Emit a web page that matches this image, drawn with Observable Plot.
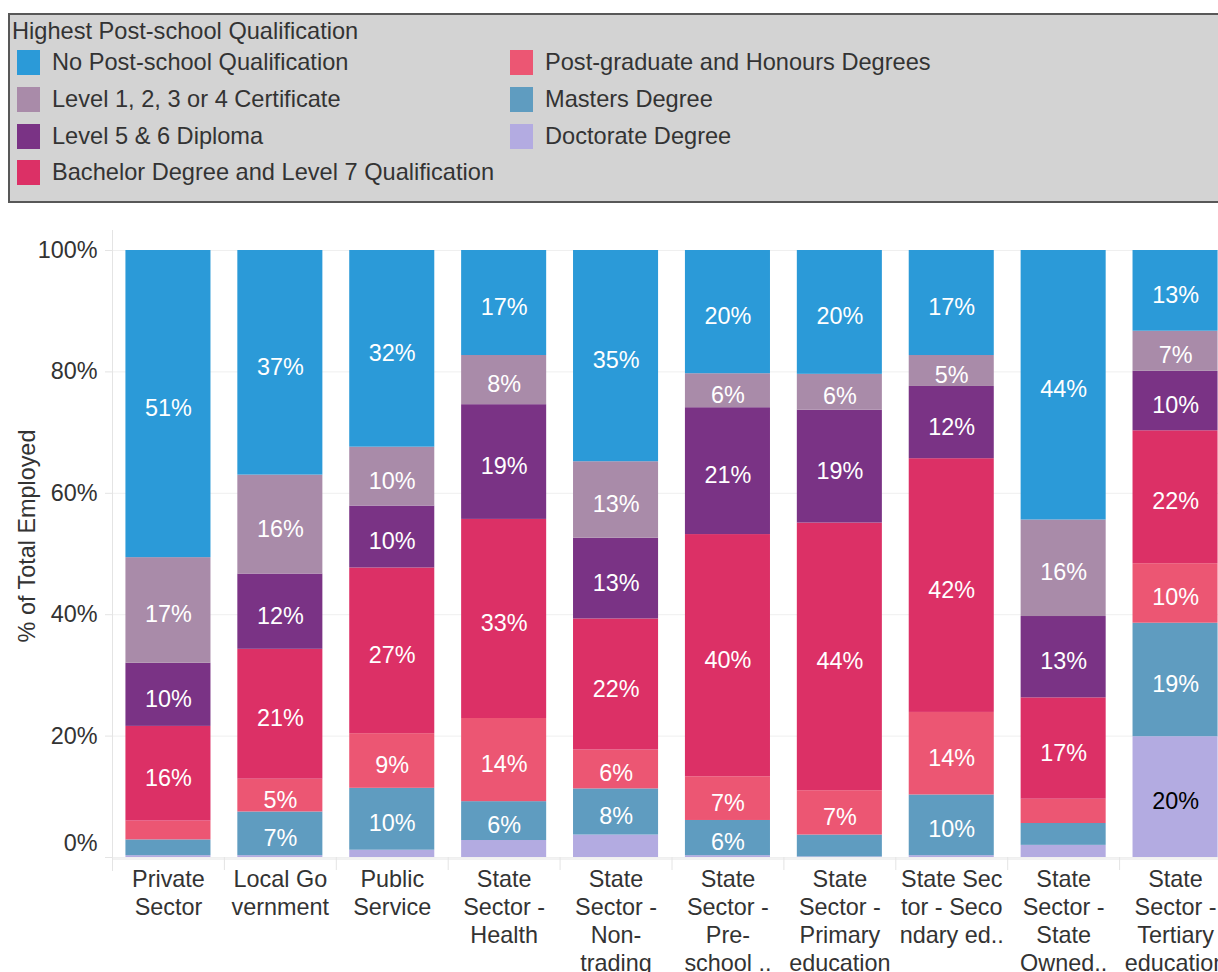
<!DOCTYPE html>
<html><head><meta charset="utf-8">
<script src="https://cdn.jsdelivr.net/npm/d3@7"></script>
<script src="https://cdn.jsdelivr.net/npm/@observablehq/plot@0.6"></script>
<style>
body{margin:0;background:#fff;font-family:"Liberation Sans",Arial,sans-serif;width:1218px;height:972px;overflow:hidden;position:relative}
#legend{position:absolute;left:8px;top:13px;width:1240px;height:186px;background:#d3d3d3;border:2px solid #585858;}
#legend .title{position:absolute;left:2px;top:3px;font-size:23.6px;color:#333;line-height:26px;white-space:nowrap}
.item{position:absolute;height:26px;display:flex;align-items:center;font-size:23.6px;color:#333;white-space:nowrap}
.sw{width:23px;height:25px;margin-right:12px;flex:none}
#chart{position:absolute;left:0;top:210px}
</style></head>
<body>
<div id="legend"><div class="title">Highest Post-school Qualification</div></div>
<div id="chart"></div>
<script>
const sectors = ["Private Sector","Local Government","Public Service","State Sector - Health","State Sector - Non-trading","State Sector - Pre-school ..","State Sector - Primary education","State Sector - Secondary ed..","State Sector - State Owned..","State Sector - Tertiary education"];
const sectorLabels = ["Private\nSector","Local Go\nvernment","Public\nService","State\nSector -\nHealth","State\nSector -\nNon-\ntrading","State\nSector -\nPre-\nschool ..","State\nSector -\nPrimary\neducation","State Sec\ntor - Seco\nndary ed..","State\nSector -\nState\nOwned..","State\nSector -\nTertiary\neducation"];
const quals = ["No Post-school Qualification","Level 1, 2, 3 or 4 Certificate","Level 5 & 6 Diploma","Bachelor Degree and Level 7 Qualification","Post-graduate and Honours Degrees","Masters Degree","Doctorate Degree"];
const colors = ["#2b9ad8","#a98ba9","#7a3385","#dc3066","#ec5673","#5f9cc0","#b3abe1"];
// percentages per qualification, one value per sector (same order as sectors)
const noPostSchool = [50.6,37.0,32.4,17.3,34.8,20.3,20.4,17.3,44.4,13.3];
const level1to4    = [17.4,16.3, 9.7, 8.1,12.6, 5.6, 5.9, 5.1,15.9, 6.6];
const level5and6   = [10.4,12.4,10.2,18.9,13.3,20.9,18.6,11.9,13.4, 9.8];
const bachelor     = [15.6,21.4,27.3,32.8,21.6,39.9,44.1,41.8,16.7,21.9];
const postgrad     = [ 3.1, 5.4, 9.0,13.7, 6.4, 7.2, 7.3,13.6, 4.0, 9.8];
const masters      = [ 2.6, 7.2,10.2, 6.4, 7.6, 5.8, 3.6,10.0, 3.6,18.7];
const doctorate    = [ 0.3, 0.3, 1.2, 2.8, 3.7, 0.3, 0.1, 0.3, 2.0,19.9];
const yTicks = [0,20,40,60,80,100];

const series = [noPostSchool, level1to4, level5and6, bachelor, postgrad, masters, doctorate];
// stack bottom-to-top: Doctorate ... No Post-school
const rows = [];
sectors.forEach((s, i) => {
  let base = 0;
  for (let q = quals.length - 1; q >= 0; q--) {
    const v = series[q][i];
    rows.push({sector: s, qual: quals[q], value: v, y1: base, y2: base + v});
    base += v;
  }
});

// legend
const legend = document.getElementById("legend");
const tops = [34, 71, 108, 144];
quals.forEach((q, i) => {
  const col = i < 4 ? 0 : 1, row = i < 4 ? i : i - 4;
  const d = document.createElement("div");
  d.className = "item";
  d.style.left = (col ? 500 : 7) + "px";
  d.style.top = tops[row] + "px";
  d.innerHTML = `<div class="sw" style="background:${colors[i]}"></div><span>${q}</span>`;
  legend.appendChild(d);
});

const W = 1218, H = 762, mL = 112, mR = -13, pI = 0.24, pO = 0.12;
const step = (W - mL - mR) / (sectors.length - pI + 2 * pO);
const labelMap = new Map(sectors.map((s, i) => [s, sectorLabels[i]]));
const shown = rows.filter(d => d.value >= 4.5);
const FS = 23.4;

const chart = Plot.plot({
  width: W, height: H,
  marginTop: 40, marginBottom: 115, marginLeft: mL, marginRight: mR,
  style: {fontFamily: '"Liberation Sans", Arial, sans-serif', fontSize: FS + "px", color: "#333", background: "transparent", overflow: "hidden"},
  x: {domain: sectors, paddingInner: pI, paddingOuter: pO, round: false, label: null},
  y: {domain: [0, 100], label: null},
  color: {domain: quals, range: colors},
  marks: [
    Plot.gridY({ticks: yTicks, stroke: "#efefef", strokeOpacity: 1}),
    Plot.frame({anchor: "left", stroke: "#e4e4e4", insetTop: -20, insetBottom: -13}),
    Plot.axisY({ticks: yTicks, tickFormat: () => "", tickSize: 7, stroke: "#e4e4e4", label: null}),
    Plot.axisY({ticks: yTicks.filter(t => t > 0), tickFormat: d => d + "%", tickSize: 0, tickPadding: 15, fontSize: FS, label: null}),
    Plot.axisY({ticks: [0], tickFormat: d => d + "%", tickSize: 0, tickPadding: 15, dy: -14, fontSize: FS, label: null}),
    Plot.barY(rows, {x: "sector", y1: "y1", y2: "y2", fill: "qual"}),
    Plot.ruleY([0], {stroke: "#e4e4e4", dy: 1.5}),
    Plot.axisX({tickSize: 13, tickFormat: () => "", dx: -step / 2, stroke: "#e4e4e4", label: null}),
    Plot.axisX({tickSize: 0, tickPadding: 10, tickFormat: d => labelMap.get(d), lineHeight: 28 / FS, fontSize: FS, label: null}),
    Plot.text(shown.filter(d => d.qual !== "Doctorate Degree"), {x: "sector", y: d => (d.y1 + d.y2) / 2, dy: 4.5, text: d => Math.round(d.value) + "%", fill: "white", fontSize: FS}),
    Plot.text(shown.filter(d => d.qual === "Doctorate Degree"), {x: "sector", y: d => (d.y1 + d.y2) / 2, dy: 4.5, text: d => Math.round(d.value) + "%", fill: "black", fontSize: FS}),
    Plot.text(["% of Total Employed"], {frameAnchor: "left", textAnchor: "middle", rotate: -90, dx: -85, dy: -18, fontSize: FS, fill: "#333"})
  ]
});
document.getElementById("chart").appendChild(chart);
</script>
</body></html>
